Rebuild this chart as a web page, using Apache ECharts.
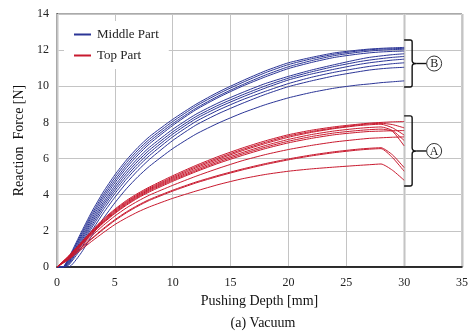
<!DOCTYPE html>
<html>
<head>
<meta charset="utf-8">
<script src="https://cdn.jsdelivr.net/npm/echarts@6/dist/echarts.min.js"></script>
<style>
  html, body { margin: 0; padding: 0; background: #fff; }
  #chart { width: 471px; height: 331px; }
</style>
</head>
<body>
<div id="chart"></div>
<script>
// pushing depth [mm] where each curve was sampled
var depth = [0, 0.5, 1, 2, 3, 4, 5, 6, 7, 8, 10, 12, 14, 16, 18, 20, 22, 24, 26, 27, 28, 29, 30];

// Middle Part (blue) reaction force [N]
var middle1  = [0, 0, 0.5, 1.8, 3.05, 4.15, 5.1, 5.92, 6.62, 7.22, 8.17, 9.0, 9.7, 10.3, 10.85, 11.3, 11.6, 11.85, 12.0, 12.06, 12.1, 12.13, 12.15];
var middle2  = [0, 0, 0.45, 1.7, 2.92, 4.0, 4.95, 5.78, 6.48, 7.08, 8.05, 8.9, 9.6, 10.2, 10.75, 11.2, 11.52, 11.78, 11.95, 12.02, 12.06, 12.08, 12.1];
var middle3  = [0, 0, 0.4, 1.6, 2.8, 3.87, 4.8, 5.63, 6.34, 6.95, 7.93, 8.78, 9.48, 10.08, 10.62, 11.08, 11.42, 11.7, 11.88, 11.95, 12.0, 12.03, 12.05];
var middle4  = [0, 0, 0.35, 1.5, 2.67, 3.73, 4.66, 5.49, 6.2, 6.82, 7.83, 8.7, 9.4, 10.0, 10.52, 10.98, 11.32, 11.6, 11.78, 11.85, 11.9, 11.93, 11.95];
var middle5  = [0, 0, 0.3, 1.4, 2.55, 3.58, 4.5, 5.32, 6.02, 6.63, 7.62, 8.45, 9.1, 9.65, 10.15, 10.55, 10.9, 11.2, 11.48, 11.6, 11.68, 11.75, 11.8];
var middle6  = [0, 0, 0.25, 1.3, 2.43, 3.45, 4.36, 5.17, 5.87, 6.48, 7.48, 8.32, 8.97, 9.52, 10.02, 10.45, 10.8, 11.1, 11.35, 11.45, 11.53, 11.6, 11.65];
var middle7  = [0, 0, 0.2, 1.2, 2.3, 3.32, 4.22, 5.02, 5.72, 6.33, 7.35, 8.2, 8.85, 9.4, 9.9, 10.35, 10.68, 10.95, 11.2, 11.3, 11.38, 11.45, 11.5];
var middle8  = [0, 0, 0.15, 1.1, 2.17, 3.17, 4.06, 4.86, 5.56, 6.17, 7.2, 8.05, 8.7, 9.25, 9.72, 10.15, 10.5, 10.78, 11.0, 11.1, 11.18, 11.25, 11.3];
var middle9  = [0, 0, 0.1, 0.95, 2.0, 2.98, 3.86, 4.65, 5.35, 5.96, 7.0, 7.85, 8.5, 9.05, 9.55, 9.98, 10.3, 10.58, 10.8, 10.9, 10.97, 11.02, 11.05];
var middle10 = [0, 0, 0, 0.7, 1.72, 2.68, 3.55, 4.33, 5.0, 5.58, 6.55, 7.35, 7.98, 8.52, 8.98, 9.36, 9.66, 9.9, 10.07, 10.13, 10.2, 10.25, 10.3];

// Top Part (red) reaction force [N]
var top1  = [0, 0.3, 0.6, 1.3, 2.0, 2.65, 3.2, 3.68, 4.08, 4.43, 5.05, 5.62, 6.13, 6.58, 6.98, 7.32, 7.57, 7.76, 7.9, 7.96, 8.0, 8.03, 8.05];
var top2  = [0, 0.3, 0.6, 1.28, 1.97, 2.6, 3.15, 3.62, 4.02, 4.37, 4.98, 5.55, 6.05, 6.5, 6.9, 7.25, 7.5, 7.7, 7.86, 7.92, 7.95, 7.88, 7.7];
var top3  = [0, 0.28, 0.57, 1.25, 1.92, 2.55, 3.1, 3.57, 3.97, 4.32, 4.92, 5.48, 5.98, 6.43, 6.83, 7.18, 7.45, 7.66, 7.82, 7.87, 7.9, 7.7, 7.3];
var top4  = [0, 0.27, 0.55, 1.22, 1.88, 2.5, 3.05, 3.52, 3.92, 4.27, 4.86, 5.4, 5.9, 6.33, 6.72, 7.06, 7.33, 7.53, 7.67, 7.72, 7.75, 7.55, 7.0];
var top5  = [0, 0.26, 0.53, 1.2, 1.85, 2.47, 3.0, 3.47, 3.87, 4.22, 4.8, 5.33, 5.82, 6.25, 6.63, 6.96, 7.22, 7.42, 7.55, 7.6, 7.63, 7.5, 6.7];
var top6  = [0, 0.25, 0.5, 1.17, 1.82, 2.43, 2.96, 3.42, 3.82, 4.16, 4.74, 5.27, 5.75, 6.17, 6.55, 6.87, 7.12, 7.32, 7.45, 7.5, 7.52, 7.54, 7.55];
var top7  = [0, 0.24, 0.48, 1.1, 1.72, 2.3, 2.82, 3.27, 3.65, 3.98, 4.52, 5.02, 5.47, 5.88, 6.22, 6.5, 6.73, 6.92, 7.06, 7.12, 7.15, 7.18, 7.2];
var top8  = [0, 0.22, 0.45, 1.02, 1.58, 2.13, 2.62, 3.05, 3.42, 3.74, 4.25, 4.7, 5.08, 5.42, 5.72, 5.98, 6.2, 6.38, 6.52, 6.57, 6.6, 6.2, 5.5];
var top9  = [0, 0.22, 0.45, 1.0, 1.55, 2.08, 2.57, 3.0, 3.37, 3.69, 4.2, 4.65, 5.03, 5.37, 5.67, 5.93, 6.15, 6.33, 6.47, 6.52, 6.55, 6.05, 5.3];
var top10 = [0, 0.2, 0.4, 0.92, 1.42, 1.9, 2.35, 2.72, 3.05, 3.33, 3.8, 4.2, 4.57, 4.88, 5.12, 5.3, 5.43, 5.53, 5.62, 5.66, 5.7, 5.35, 4.8];

var middleCurves = [middle1, middle2, middle3, middle4, middle5, middle6, middle7, middle8, middle9, middle10];
var topCurves = [top1, top2, top3, top4, top5, top6, top7, top8, top9, top10];

// bracket groups: [depth, low force, high force, label]
var groups = [[30, 9.96, 12.56, 'B'], [30, 4.48, 8.36, 'A']];

var BLUE = '#2b3596';
var RED = '#c8192e';
var FONT = 'Liberation Serif';

function makeLine(name, color, arr) {
  return {
    name: name,
    type: 'line',
    data: depth.map(function (d, i) { return [d, arr[i]]; }),
    showSymbol: false,
    symbol: 'none',
    smooth: 0.2,
    color: color,
    lineStyle: { color: color, width: 1 },
    silent: true,
    z: 3
  };
}

var series = [];
middleCurves.forEach(function (c) { series.push(makeLine('Middle Part', BLUE, c)); });
topCurves.forEach(function (c) { series.push(makeLine('Top Part', RED, c)); });

// curly brackets with circled letters
series.push({
  type: 'custom',
  silent: true,
  clip: false,
  z: 5,
  data: groups,
  renderItem: function (params, api) {
    var hi = api.coord([api.value(0), api.value(2)]);
    var lo = api.coord([api.value(0), api.value(1)]);
    var x0 = hi[0], yt = hi[1], yb = lo[1];
    var ym = (yt + yb) / 2;
    var xv = x0 + 8;
    var path = 'M' + x0 + ' ' + yt + ' L' + (xv - 2) + ' ' + yt +
      ' Q' + xv + ' ' + yt + ' ' + xv + ' ' + (yt + 2) +
      ' L' + xv + ' ' + (ym - 3) + ' Q' + xv + ' ' + ym + ' ' + (xv + 4) + ' ' + ym +
      ' Q' + xv + ' ' + ym + ' ' + xv + ' ' + (ym + 3) +
      ' L' + xv + ' ' + (yb - 2) + ' Q' + xv + ' ' + yb + ' ' + (xv - 2) + ' ' + yb +
      ' L' + x0 + ' ' + yb;
    var cx = x0 + 30;
    return {
      type: 'group',
      children: [
        { type: 'path', shape: { pathData: path }, style: { fill: null, stroke: '#111', lineWidth: 1.4 } },
        { type: 'line', shape: { x1: xv + 4, y1: ym, x2: cx - 7.5, y2: ym }, style: { stroke: '#111', lineWidth: 1.4 } },
        { type: 'circle', shape: { cx: cx, cy: ym, r: 7.5 }, style: { fill: '#fff', stroke: '#333', lineWidth: 1 } },
        { type: 'text', x: cx, y: ym + 0.5, style: { text: api.value(3), fill: '#222', font: '12px "' + FONT + '"', align: 'center', verticalAlign: 'middle' } }
      ]
    };
  }
});

var chart = echarts.init(document.getElementById('chart'), null, { renderer: 'canvas' });
chart.setOption({
  animation: false,
  backgroundColor: '#fff',
  textStyle: { fontFamily: FONT },
  title: {
    text: '(a) Vacuum',
    left: 258,
    textAlign: 'center',
    top: 311,
    textStyle: { fontFamily: FONT, fontSize: 14, fontWeight: 'normal', color: '#111' }
  },
  legend: {
    data: ['Middle Part', 'Top Part'],
    orient: 'vertical',
    left: 64,
    top: 21,
    padding: [7, 10, 7, 10],
    backgroundColor: '#fff',
    itemWidth: 17,
    itemHeight: 14,
    itemGap: 8,
    icon: 'path://M0 6 L17 6 L17 8 L0 8 Z',
    textStyle: { fontFamily: FONT, fontSize: 13, color: '#222', padding: [0, 0, 0, 1] },
    selectedMode: false
  },
  grid: {
    left: 57, right: 8, top: 14, bottom: 64,
    show: true, borderColor: '#555', borderWidth: 1, backgroundColor: 'transparent'
  },
  xAxis: [{
    type: 'value',
    min: 0, max: 35, interval: 5,
    name: 'Pushing Depth [mm]',
    nameLocation: 'middle',
    nameGap: 25,
    nameTextStyle: { fontFamily: FONT, fontSize: 14, color: '#111' },
    axisLine: { show: true, lineStyle: { color: '#000', width: 1.5 } },
    axisTick: { show: false },
    axisLabel: { margin: 10, fontFamily: FONT, fontSize: 12, color: '#222' },
    splitLine: { show: true, lineStyle: { color: '#c4c4c4', width: 1 } },
    z: 2
  }, {
    // wider pale gridline at 30 mm
    type: 'value',
    min: 0, max: 35, interval: 30,
    show: true,
    axisLine: { show: false },
    axisTick: { show: false },
    axisLabel: { show: false },
    splitLine: { show: true, lineStyle: { color: '#d6d6d6', width: 2.5 } },
    z: 1
  }],
  yAxis: {
    type: 'value',
    min: 0, max: 14, interval: 2,
    name: 'Reaction  Force [N]',
    nameLocation: 'middle',
    nameGap: 30,
    nameTextStyle: { fontFamily: FONT, fontSize: 14, color: '#111' },
    axisLine: { show: true, lineStyle: { color: '#000', width: 1.5 } },
    axisTick: { show: false },
    axisLabel: { margin: 8, fontFamily: FONT, fontSize: 12, color: '#222' },
    splitLine: { show: true, lineStyle: { color: '#c4c4c4', width: 1 } }
  },
  series: series
});
</script>
</body>
</html>
